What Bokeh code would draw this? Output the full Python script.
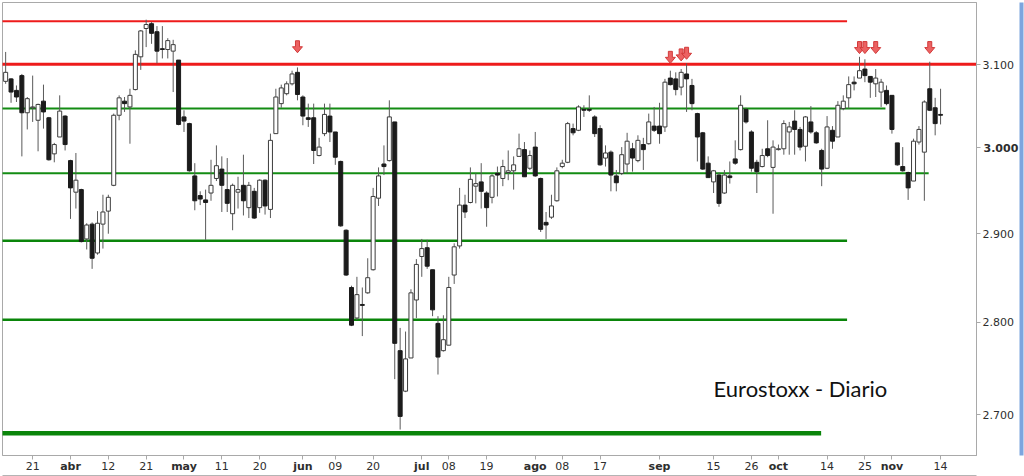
import numpy as np
from bokeh.plotting import figure
from bokeh.models import Range1d, FixedTicker, ColumnDataSource, Label, LinearAxis, LogAxis
from bokeh.embed import file_html
from bokeh.resources import INLINE

# ---- daily OHLC (Eurostoxx 50, 14-mar .. 14-nov), index = trading day ----
opens = [3080,3083,3069,3087,3042,3048,3033,3056,3036,2993,3013,3038,2985,2948,2951,2894,2911,2878,2911,2926,
         2956,3039,3056,3049,3070,3110,3145,3151,3141,3120,3119,3117,3106,3037,3029,2967,2944,2939,2947,2964,
         2975,2951,2923,2948,2956,2930,2949,2930,2962,2928,3017,3053,3065,3077,3091,3061,3036,3036,2991,3017,
         3038,3019,2984,2904,2839,2805,2820,2833,2859,2941,2981,2985,3031,2769,2725,2761,2825,2874,2884,2859,
         2799,2769,2775,2853,2886,2933,2936,2955,2960,2947,2942,2970,2964,2971,2973,2990,2998,2976,3001,2964,
         2913,2919,2938,2978,2983,3023,3021,3046,3046,3037,3023,2988,2995,2967,2970,2981,2999,2985,3004,3005,
         3026,3026,3025,3084,3083,3073,3089,3075,3041,3018,2982,2960,2968,2947,2967,2987,2998,3046,3019,2983,
         2978,2999,2977,2998,2999,3019,3032,3022,3002,3031,3018,2997,2976,3021,3013,3047,3060,3079,3084,3095,
         3086,3077,3067,3069,3063,3006,2978,2971,2961,3007,2995,3071,3048,3040]
highs = [3116,3084,3075,3089,3061,3087,3053,3076,3037,3006,3063,3039,2986,2994,2952,2912,2913,2926,2945,2945,
         3041,3063,3061,3071,3118,3143,3156,3153,3148,3148,3133,3131,3106,3045,3030,2982,2949,2951,2986,3003,
         2990,2988,2958,2966,2992,2960,2953,2963,2963,3017,3071,3076,3080,3093,3097,3063,3053,3053,3012,3053,
         3053,3019,2985,2905,2841,2851,2839,2872,2953,2977,3003,3057,3031,2794,2790,2837,2871,2894,2893,2859,
         2807,2808,2851,2889,2953,2945,2977,2970,2982,2949,2969,2978,2986,2997,2990,3017,3007,2997,3019,2965,
         2925,2945,2977,2986,3031,3029,3051,3051,3063,3039,3027,3003,2997,2974,3001,3018,3006,3015,3012,3041,
         3049,3054,3083,3093,3091,3095,3102,3083,3042,3019,2990,2974,2971,2974,2984,3009,3063,3048,3021,2986,
         2999,3033,3009,3004,3033,3031,3045,3025,3038,3050,3020,2999,3038,3026,3056,3063,3086,3086,3110,3107,
         3086,3095,3083,3075,3063,3006,3001,2972,3011,3026,3057,3104,3060,3071]
lows = [3077,3054,3055,2990,3022,3031,2996,3023,2985,2983,3013,2997,2917,2929,2890,2882,2860,2876,2883,2900,
        2955,3033,3043,3005,3069,3094,3122,3126,3102,3108,3108,3067,3027,3019,2972,2927,2933,2893,2938,2961,
        2925,2925,2904,2929,2921,2918,2917,2924,2922,2918,3017,3048,3063,3075,3057,3027,3025,2981,2990,3014,
        3007,2980,2908,2852,2796,2803,2785,2832,2858,2932,2968,2984,2738,2684,2724,2761,2805,2851,2860,2807,
        2743,2768,2775,2843,2883,2918,2935,2935,2929,2908,2935,2943,2955,2962,2951,2990,2966,2974,2966,2902,
        2894,2917,2937,2976,2982,3015,3020,3037,3043,3013,2979,2978,2949,2949,2968,2970,2972,2983,2974,3004,
        3019,3005,3019,3075,3063,3063,3043,3045,2984,2974,2965,2947,2931,2946,2958,2980,2997,3029,2972,2947,
        2977,2989,2923,2997,2992,2992,2992,2997,2984,3017,3005,2955,2975,2999,3013,3045,3047,3069,3084,3079,
        3060,3061,3049,3051,3017,2979,2972,2939,2961,3004,2938,3044,3015,3028]
closes = [3091,3067,3061,3042,3059,3049,3052,3043,2986,3004,3044,3004,2953,2962,2891,2910,2872,2912,2925,2942,
          3039,3060,3053,3063,3113,3142,3150,3139,3117,3119,3130,3125,3028,3032,2973,2938,2940,2936,2956,2979,
          2956,2935,2956,2951,2938,2956,2918,2962,2932,3009,3061,3072,3077,3089,3064,3038,3034,2997,3001,3040,
          3019,2989,2909,2853,2797,2831,2819,2850,2943,2967,2978,3037,2777,2698,2760,2833,2865,2883,2863,2814,
          2762,2781,2839,2885,2933,2925,2963,2958,2949,2930,2967,2968,2978,2973,2980,2999,2966,2991,2967,2905,
          2910,2932,2973,2982,3029,3018,3049,3045,3045,3017,2980,2994,2968,2959,2992,3008,2988,3009,2998,3031,
          3021,3017,3079,3076,3070,3091,3083,3053,3013,2975,2965,2973,2935,2968,2965,2982,3051,3031,2976,2972,
          2991,2991,3001,2999,3029,3025,3022,3001,3037,3019,3006,2975,3025,3008,3051,3056,3076,3077,3093,3087,
          3079,3084,3079,3053,3022,2980,2973,2953,3008,3022,3055,3045,3029,3039]

# ---- analyst's horizontal levels ----
level_values = [3154, 3101, 3047, 2970, 2892, 2803, 2680]
level_end_day = [155.7, 182, 162.8, 170.8, 155.7, 155.7, 150.9]
level_colors = ["#ee1b1b", "#ee1b1b", "#138c13", "#138c13", "#0a850a", "#0a850a", "#0a850a"]
level_widths = [2, 3, 2, 2, 2.5, 2.5, 4.5]

# ---- red warning arrows (day index, tip value) ----
arrow_day = [54, 123, 125, 126, 158, 159, 161, 171]
arrow_tip = [3115, 3102, 3105, 3107, 3114, 3114, 3114, 3114]

# ---- x tick labels ----
tick_days = [5, 12, 19, 26, 33, 40, 47, 55, 61, 68, 77, 82, 89, 98, 103, 110, 121, 131, 138, 143, 152, 159, 164, 173]
tick_labels = ["21", "abr", "12", "21", "may", "11", "20", "jun", "09", "20", "jul", "08", "19",
               "ago", "08", "17", "sep", "15", "26", "oct", "14", "25", "nov", "14"]
month_names = ["abr", "may", "jun", "jul", "ago", "sep", "oct", "nov"]
y_ticks = [2700, 2800, 2900, 3000, 3100]
y_bold_tick = 3000

PX_PER_DAY = 5.404
PX_PER_LN = 2530.0
LABEL_COLOR = "#2e2e2e"
AXIS_GREY = "#a9a9a9"

p = figure(width=1024, height=476, y_axis_type="log", y_axis_location="right",
           x_range=Range1d(-0.583, 179.65), y_range=Range1d(2656.6, 3177.5),
           output_backend="svg", toolbar_location=None,
           min_border_left=2, min_border_right=48, min_border_top=2, min_border_bottom=21)
p.background_fill_color = "white"
p.border_fill_color = "white"
p.outline_line_color = AXIS_GREY
p.xgrid.visible = False
p.ygrid.visible = False

idx = np.arange(len(opens))
o = np.array(opens, float); c = np.array(closes, float)
h = np.array(highs, float); l = np.array(lows, float)
up = c >= o

# levels
lx0 = [-2] * len(level_values)
p.segment(x0=lx0, y0=level_values, x1=level_end_day, y1=level_values,
          line_color=level_colors, line_width=level_widths)

# wicks
p.segment(x0=idx, y0=h, x1=idx, y1=l, line_color="#5a5a5a", line_width=1)
# bodies
src_up = ColumnDataSource(dict(x=idx[up], top=c[up], bottom=o[up]))
src_dn = ColumnDataSource(dict(x=idx[~up], top=o[~up], bottom=c[~up]))
p.vbar(x="x", top="top", bottom="bottom", width=0.74, source=src_up,
       fill_color="white", line_color="#3c3c3c", line_width=1)
p.vbar(x="x", top="top", bottom="bottom", width=0.74, source=src_dn,
       fill_color="#1b1b1b", line_color="#1b1b1b", line_width=1)

# arrows (shape built in pixels around each tip)
shape = [(0, 0), (5, 6), (2, 6), (2, 12), (-2, 12), (-2, 6), (-5, 6)]
axs, ays = [], []
for d, v in zip(arrow_day, arrow_tip):
    axs.append([d + dx / PX_PER_DAY for dx, dy in shape])
    ays.append([v * np.exp(dy / PX_PER_LN) for dx, dy in shape])
p.patches(axs, ays, fill_color="#ec6262", line_color="#d23a3a", line_width=1)

# title text
p.add_layout(Label(x=131, y=2728, text="Eurostoxx - Diario", text_font="Lato",
                   text_font_size="22px", text_color="#111111", text_baseline="alphabetic"))

def style_axis(ax, tick_out):
    ax.axis_line_color = AXIS_GREY
    ax.major_tick_line_color = AXIS_GREY
    ax.major_tick_out = tick_out
    ax.major_tick_in = 0
    ax.minor_tick_line_color = None
    ax.major_label_text_font = "DejaVu Sans"
    ax.major_label_text_font_size = "11px"
    ax.major_label_text_color = LABEL_COLOR
    ax.major_label_standoff = 2

# main axes: day numbers / normal price labels
xa = p.xaxis[0]
xa.ticker = FixedTicker(ticks=tick_days)
xa.major_label_overrides = {d: ("" if t in month_names else t) for d, t in zip(tick_days, tick_labels)}
style_axis(xa, 4)
ya = p.yaxis[0]
ya.ticker = FixedTicker(ticks=y_ticks)
ya.major_label_overrides = {t: ("" if t == y_bold_tick else f"{t/1000:.3f}") for t in y_ticks}
style_axis(ya, 4)

# second axes overlaid on the same label rows: bold month names / bold 3.000
mdays = [d for d, t in zip(tick_days, tick_labels) if t in month_names]
xb = LinearAxis(ticker=FixedTicker(ticks=mdays),
                major_label_overrides={d: t for d, t in zip(tick_days, tick_labels) if t in month_names})
style_axis(xb, 0)
xb.axis_line_color = None
xb.major_tick_line_color = None
xb.major_label_standoff = -13
xb.major_label_text_font_style = "bold"
p.add_layout(xb, "below")

# thin grey window edge at the very bottom
xc = LinearAxis(ticker=FixedTicker(ticks=[]), major_label_text_font_size="0px")
xc.axis_line_color = "#b4b4b4"
xc.axis_line_width = 1
xc.major_tick_line_color = None
xc.minor_tick_line_color = None
xc.major_label_standoff = 0
p.add_layout(xc, "below")

yb = LogAxis(ticker=FixedTicker(ticks=[y_bold_tick]),
             major_label_overrides={y_bold_tick: f"{y_bold_tick/1000:.3f}"})
style_axis(yb, 0)
yb.axis_line_color = None
yb.major_tick_line_color = None
yb.major_label_standoff = -33
yb.major_label_text_font_style = "bold"
p.add_layout(yb, "right")

# blue window edge on the far right
yc = LinearAxis(ticker=FixedTicker(ticks=[]), major_label_text_font_size="0px")
yc.axis_line_color = "#7da5de"
yc.axis_line_width = 4
yc.major_tick_line_color = None
yc.minor_tick_line_color = None
yc.major_label_standoff = 0
p.add_layout(yc, "right")

open("out.html", "w").write(file_html(p, INLINE))
